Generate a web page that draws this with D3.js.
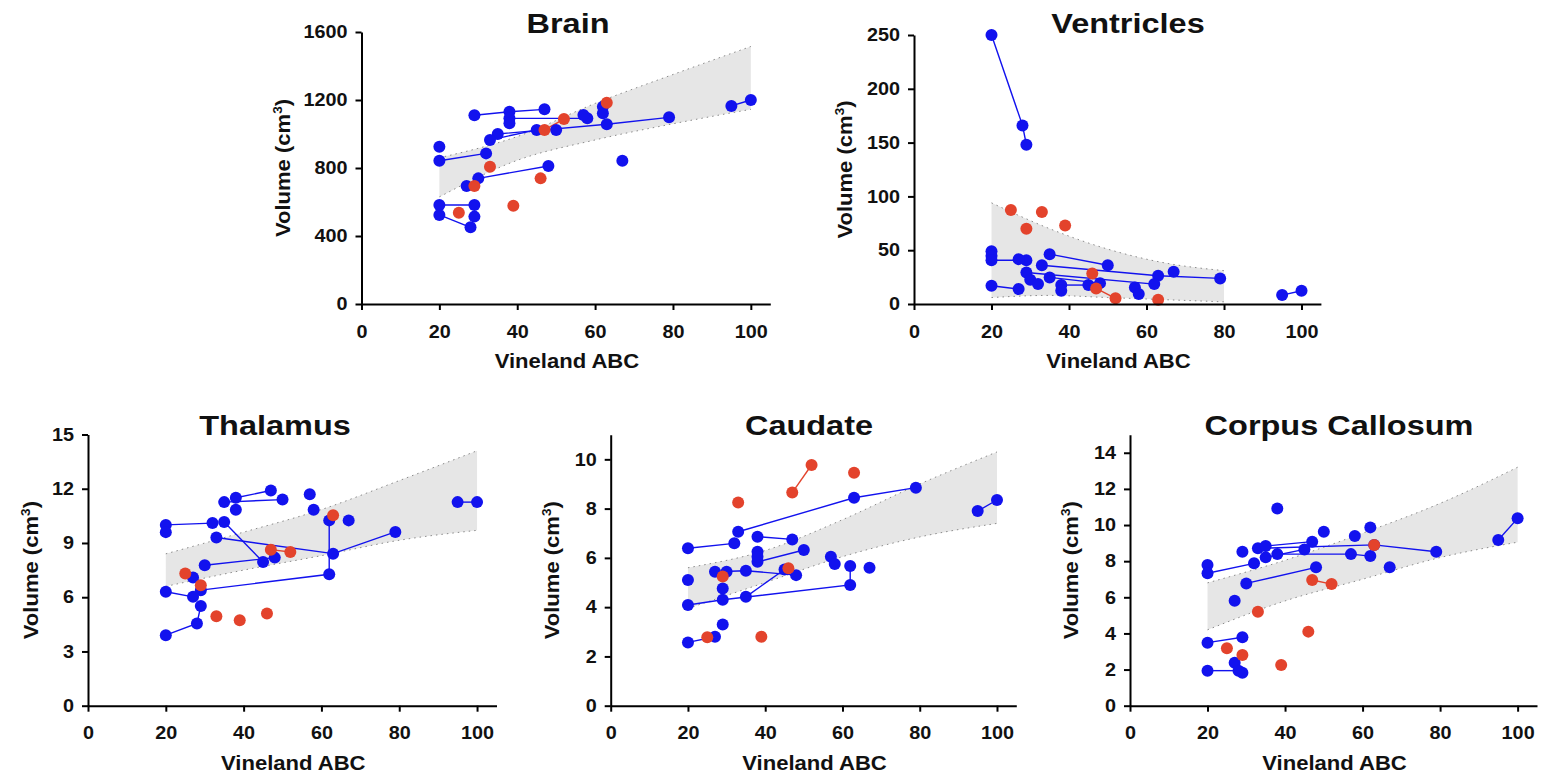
<!DOCTYPE html>
<html>
<head>
<meta charset="utf-8">
<title>Regional volume vs Vineland ABC</title>
<script src="https://cdnjs.cloudflare.com/ajax/libs/d3/7.8.5/d3.min.js"></script>
<style>
  body { margin: 0; background: #fff; }
  text { font-family: "Liberation Sans", Arial, sans-serif; font-weight: bold; fill: #111; }
</style>
</head>
<body>
<script>
// each inner list is one subject: [Vineland ABC, volume] per visit, visits joined by a line
var brainBlue = [[[29,1110],[38,1131],[47,1145]], [[38,1092],[58,1092]], [[38,1063]], [[62,1161],[62,1122]], [[57,1112]],
  [[35,1000],[63,1057],[79,1098]], [[33,965],[45,1024],[50,1024]], [[20,925]], [[20,843],[32,886]], [[30,739],[48,812]],
  [[27,694]], [[67,843]], [[20,582],[29,582]], [[20,524],[28,451]], [[29,514]], [[95,1165],[100,1200]]];
var brainRed = [[[25,537]], [[29,694]], [[33,808]], [[39,578]], [[46,739]], [[47,1024],[52,1088]], [[63,1184]]];
var brainBand = [[20,630,860],[40,845,985],[60,965,1180],[80,1060,1350],[100,1145,1515]];

var ventBlue = [[[20,250],[28,166],[29,148]], [[20,49]], [[20,44.7]], [[20,40.7],[29,40.7]], [[27,41.7]],
  [[35,46.3],[50,36]], [[33,36],[63,26.2],[79,23.8]], [[29,29.3],[62,18.5]], [[20,17],[27,13.9]], [[35,24.7],[48,19.4]],
  [[38,17.6],[45,17.6]], [[30,22.5]], [[32,18.5]], [[38,12.3]], [[57,15.4]], [[58,9.3]], [[67,29.9]], [[95,8.3],[100,12.3]]];
var ventRed = [[[25,87.3]], [[29,70]], [[33,85.5]], [[39,73]], [[46,28.4]], [[47,14.5],[52,5.3]], [[63,4]]];
var ventBand = [[20,6,94],[35,8,70],[50,6,51],[65,4,38],[80,2,31]];

var thalBlue = [[[20,10.0],[32,10.1]], [[20,9.6]], [[38,11.5],[47,11.9]], [[35,11.26],[50,11.4]], [[38,10.84]],
  [[35,10.16],[45,7.95]], [[33,9.3],[63,8.41],[79,9.61]], [[29,6.39],[62,7.27],[62,10.25]], [[30,7.77],[48,8.19]],
  [[20,6.3],[27,6.02]], [[27,7.09]], [[20,3.9],[28,4.55],[29,5.52]], [[57,11.7]], [[58,10.84]], [[67,10.25]], [[95,11.26],[100,11.26]]];
var thalRed = [[[25,7.31]], [[29,6.66]], [[33,4.95]], [[39,4.73]], [[46,5.1]], [[47,8.63],[52,8.5]], [[63,10.53]]];
var thalBand = [[20,6.6,8.4],[40,7.5,9.6],[60,8.3,10.85],[80,9.15,12.45],[100,9.7,14.1]];

var caudBlue = [[[20,6.39],[32,6.59]], [[33,7.06],[63,8.44],[79,8.85]], [[38,6.86],[47,6.75]], [[38,5.84],[50,6.32]],
  [[38,6.25]], [[38,6.05]], [[20,4.09],[29,4.3],[62,4.9],[62,5.67]], [[35,4.42],[45,5.53]], [[27,5.44],[35,5.48],[48,5.3]],
  [[30,5.44]], [[29,4.76]], [[20,5.1]], [[57,6.05]], [[58,5.75]], [[67,5.6]], [[20,2.57],[27,2.8]], [[29,3.3]], [[95,7.9],[100,8.35]]];
var caudRed = [[[25,2.78]], [[29,5.24]], [[33,8.25]], [[39,2.8]], [[46,5.58]], [[47,8.65],[52,9.77]], [[63,9.46]]];
var caudBand = [[20,3.95,5.6],[40,5.0,6.3],[60,6.05,7.55],[80,6.85,9.0],[100,7.4,10.3]];

var ccBlue = [[[38,10.92]], [[20,7.79]], [[20,7.33],[32,7.88]], [[29,8.52]], [[33,8.71],[63,8.9],[79,8.52]],
  [[35,8.84],[47,9.08]], [[35,8.21],[45,8.65]], [[38,8.39],[57,8.39],[62,8.28]], [[50,9.63]], [[58,9.39]], [[62,9.87]],
  [[67,7.66]], [[95,9.17],[100,10.37]], [[30,6.77],[48,7.66]], [[27,5.81]], [[20,3.49],[29,3.79]], [[27,2.38],[29,1.83]], [[20,1.94],[28,1.94]]];
var ccRed = [[[25,3.18]], [[29,2.8]], [[33,5.2]], [[39,2.25]], [[46,4.1]], [[47,6.96],[52,6.73]], [[63,8.89]]];
var ccBand = [[20,4.2,6.8],[40,5.8,8.05],[60,7.0,9.55],[80,8.2,11.2],[100,9.05,13.2]];

var xTicks = [0, 20, 40, 60, 80, 100];
var brainTicks = [0, 400, 800, 1200, 1600];
var ventTicks = [0, 50, 100, 150, 200, 250];
var thalTicks = [0, 3, 6, 9, 12, 15];
var caudTicks = [0, 2, 4, 6, 8, 10];
var ccTicks = [0, 2, 4, 6, 8, 10, 12, 14];

var BLUE = "#1212ee", RED = "#e3432c";

// layout of the five panels (pixels)
var panels = [
  {title: "Brain", blue: brainBlue, red: brainRed, band: brainBand, yMax: 1600, ticks: brainTicks,
   left: 361.5, right: 770.3, top: 32, bottom: 304, titleX: 568, labelX: 283},
  {title: "Ventricles", blue: ventBlue, red: ventRed, band: ventBand, yMax: 250, ticks: ventTicks,
   left: 914, right: 1320.9, top: 35, bottom: 304, titleX: 1128, labelX: 845},
  {title: "Thalamus", blue: thalBlue, red: thalRed, band: thalBand, yMax: 15, ticks: thalTicks,
   left: 88, right: 496.5, top: 434.5, bottom: 705.7, titleX: 275, labelX: 31},
  {title: "Caudate", blue: caudBlue, red: caudRed, band: caudBand, yMax: 11, ticks: caudTicks,
   left: 610.7, right: 1016.3, top: 434.7, bottom: 705.7, titleX: 809, labelX: 552},
  {title: "Corpus Callosum", blue: ccBlue, red: ccRed, band: ccBand, yMax: 15, ticks: ccTicks,
   left: 1130, right: 1537, top: 434.7, bottom: 705.7, titleX: 1339, labelX: 1071}
];

var svg = d3.select("body").append("svg").attr("width", 1562).attr("height", 781);

panels.forEach(function (p) {
  var x = d3.scaleLinear().domain([0, 105]).range([p.left, p.right]);
  var y = d3.scaleLinear().domain([0, p.yMax]).range([p.bottom, p.top]);
  var g = svg.append("g");

  // confidence band
  var area = d3.area().x(function (d) { return x(d[0]); })
    .y0(function (d) { return y(d[1]); }).y1(function (d) { return y(d[2]); })
    .curve(d3.curveMonotoneX);
  g.append("path").datum(p.band).attr("d", area).attr("fill", "#e6e6e6");
  [1, 2].forEach(function (k) {
    var edge = d3.line().x(function (d) { return x(d[0]); }).y(function (d) { return y(d[k]); })
      .curve(d3.curveMonotoneX);
    g.append("path").datum(p.band).attr("d", edge).attr("fill", "none")
      .attr("stroke", "#8a8a8a").attr("stroke-width", 1).attr("stroke-dasharray", "1.5,4");
  });

  // subject lines and points
  var line = d3.line().x(function (d) { return x(d[0]); }).y(function (d) { return y(d[1]); });
  [[p.blue, BLUE], [p.red, RED]].forEach(function (grp) {
    g.selectAll(null).data(grp[0].filter(function (s) { return s.length > 1; })).enter()
      .append("path").attr("d", line).attr("fill", "none")
      .attr("stroke", grp[1]).attr("stroke-width", 1.4);
  });
  [[p.blue, BLUE], [p.red, RED]].forEach(function (grp) {
    g.selectAll(null).data(d3.merge(grp[0])).enter().append("circle")
      .attr("cx", function (d) { return x(d[0]); })
      .attr("cy", function (d) { return y(d[1]); })
      .attr("r", 6).attr("fill", grp[1]);
  });

  // axes
  var fmt = d3.format("d");
  var xa = g.append("g").attr("transform", "translate(0," + p.bottom + ")")
    .call(d3.axisBottom(x).tickValues(xTicks).tickFormat(fmt).tickSize(6).tickSizeOuter(0).tickPadding(15));
  var ya = g.append("g").attr("transform", "translate(" + p.left + ",0)")
    .call(d3.axisLeft(y).tickValues(p.ticks).tickFormat(fmt).tickSize(6).tickSizeOuter(0).tickPadding(8));
  [xa, ya].forEach(function (a) {
    a.select(".domain").attr("stroke", "#000").attr("stroke-width", 2);
    a.selectAll(".tick line").attr("stroke", "#000").attr("stroke-width", 2);
    a.selectAll(".tick text")
      .style("font-family", "'Liberation Sans', Arial, sans-serif")
      .style("font-weight", "bold").style("font-size", "18px")
      .attr("fill", "#111").attr("transform", "scale(1.1,1)");
  });
  ya.selectAll(".tick text").attr("x", -14 / 1.1);

  // titles
  g.append("text").attr("text-anchor", "middle")
    .attr("transform", "translate(" + p.titleX + "," + (p.top < 100 ? 33 : 435) + ") scale(1.16,1)")
    .style("font-size", "28px").text(p.title);

  g.append("text").attr("text-anchor", "middle")
    .attr("transform", "translate(" + ((p.left + p.right) / 2 + 1) + "," + (p.bottom + 64) + ") scale(1.05,1)")
    .style("font-size", "21px").text("Vineland ABC");

  var yl = g.append("text").attr("text-anchor", "middle")
    .attr("transform", "translate(" + (p.labelX + 7) + "," + ((p.top + p.bottom) / 2) + ") rotate(-90) scale(1.05,1)")
    .style("font-size", "21px");
  yl.append("tspan").text("Volume (cm");
  yl.append("tspan").attr("dy", -8).style("font-size", "13px").text("3");
  yl.append("tspan").attr("dy", 8).text(")");
});
</script>
</body>
</html>
